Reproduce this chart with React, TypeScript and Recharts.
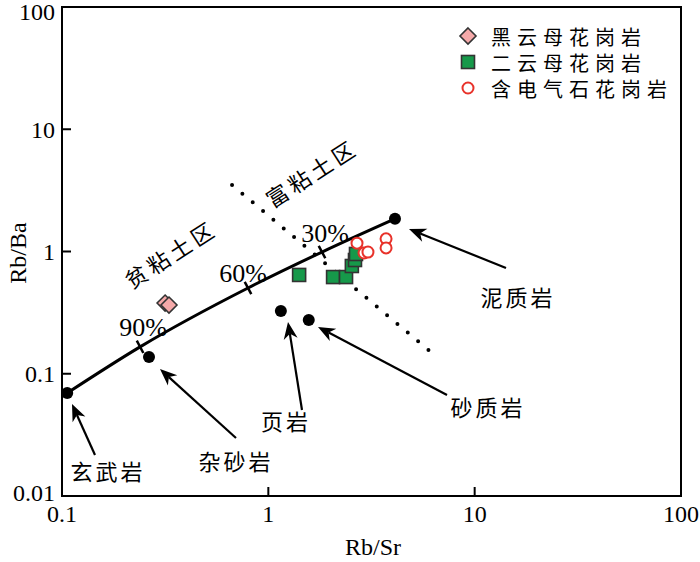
import React from 'react';
import { ComposedChart, Line, Scatter, XAxis, YAxis, ReferenceArea } from 'recharts';

// ---------- data ----------
const xTicks = [0.1, 1, 10, 100];
const yTicks = [0.01, 0.1, 1, 10, 100];

const seriesNames = ['黑云母花岗岩', '二云母花岗岩', '含电气石花岗岩'];

const biotiteGranite = [
  { x: 0.316, y: 0.379 },
  { x: 0.33, y: 0.365 },
];

const twoMicaGranite = [
  { x: 1.41, y: 0.643 },
  { x: 2.06, y: 0.618 },
  { x: 2.38, y: 0.618 },
  { x: 2.54, y: 0.761 },
  { x: 2.63, y: 0.852 },
  { x: 2.66, y: 0.954 },
];

const tourmalineGranite = [
  { x: 2.69, y: 1.17 },
  { x: 2.91, y: 0.972 },
  { x: 3.04, y: 0.99 },
  { x: 3.72, y: 1.27 },
  { x: 3.72, y: 1.07 },
];

const endMembers = [
  { name: '玄武岩', x: 0.106, y: 0.0696 },
  { name: '杂砂岩', x: 0.264, y: 0.137 },
  { name: '页岩', x: 1.15, y: 0.326 },
  { name: '砂质岩', x: 1.57, y: 0.275 },
  { name: '泥质岩', x: 4.11, y: 1.85 },
];

const mixingCurve = [
  { x: 0.106, y: 0.0696 },
  { x: 0.239, y: 0.166 },
  { x: 0.797, y: 0.503 },
  { x: 1.82, y: 0.99 },
  { x: 4.11, y: 1.85 },
];

const mixTicks = [
  { label: '90%', x: 0.239, y: 0.166 },
  { label: '60%', x: 0.797, y: 0.503 },
  { label: '30%', x: 1.82, y: 0.99 },
];

const clayBoundary = [
  { x: 0.667, y: 3.5 },
  { x: 6.3, y: 0.145 },
];

// ---------- layout (pixels) ----------
const W = 700;
const H = 562;
const SERIF = '"Liberation Serif", "Times New Roman", serif';
const CJK = '"Noto Sans CJK SC", "Noto Sans", sans-serif';

const rockLabels = [
  { text: '玄武岩', x: 108, y: 470 },
  { text: '杂砂岩', x: 236, y: 460 },
  { text: '页岩', x: 286, y: 420 },
  { text: '砂质岩', x: 488, y: 406 },
  { text: '泥质岩', x: 518, y: 296 },
];

const arrows = [
  { from: [95, 455], to: [72, 404] },
  { from: [236, 438], to: [160, 369] },
  { from: [302, 410], to: [288, 322] },
  { from: [447, 395], to: [318, 327] },
  { from: [506, 268], to: [409, 229] },
];

const pctLabels = [
  { x: 143, y: 327 },
  { x: 243, y: 273 },
  { x: 325, y: 233 },
];

const zoneLabels = [
  { text: '贫粘土区', x: 170, y: 253 },
  { text: '富粘土区', x: 311, y: 172 },
];

const legendRows = [36, 62, 88];

// ---------- shapes ----------
const Diamond = ({ cx, cy }: any) => (
  <polygon
    points={`${cx},${cy - 8} ${cx + 8},${cy} ${cx},${cy + 8} ${cx - 8},${cy}`}
    fill="#f5a9a9"
    stroke="#333"
    strokeWidth={1.6}
  />
);

const Square = ({ cx, cy }: any) => (
  <rect x={cx - 6.5} y={cy - 6.5} width={13} height={13} fill="#16994a" stroke="#333" strokeWidth={1.6} />
);

const Circle = ({ cx, cy }: any) => (
  <circle cx={cx} cy={cy} r={5.5} fill="#fff" stroke="#e8322a" strokeWidth={2} />
);

const Dot = ({ cx, cy }: any) => <circle cx={cx} cy={cy} r={6} fill="#000" />;

const TickMark = ({ cx, cy }: any) => {
  const a = (28 * Math.PI) / 180;
  const px = Math.sin(a) * 7;
  const py = Math.cos(a) * 7;
  return <line x1={cx - px} y1={cy - py} x2={cx + px} y2={cy + py} stroke="#000" strokeWidth={2.5} />;
};

const fmt = (v: number) => String(v);

const YTick = ({ x, y, payload }: any) => {
  const v = payload.value;
  const shift = v === 100 ? 5 : v === 0.01 ? -3 : 0;
  return (
    <g>
      <text x={x} y={y + shift} dy="0.35em" textAnchor="end" fontSize={24} fontFamily={SERIF} fill="#000">
        {fmt(v)}
      </text>
      {v > 0.01 && v < 100 && <line x1={x + 7} x2={x + 16} y1={y} y2={y} stroke="#000" strokeWidth={2} />}
    </g>
  );
};

const XTick = ({ x, y, payload }: any) => {
  const v = payload.value;
  return (
    <g>
      <text x={x} y={y} dy="0.72em" textAnchor="middle" fontSize={24} fontFamily={SERIF} fill="#000">
        {fmt(v)}
      </text>
      {v > 0.1 && v < 100 && <line x1={x} x2={x} y1={y - 9} y2={y - 18} stroke="#000" strokeWidth={2} />}
    </g>
  );
};

const Arrow = ({ from, to }: any) => {
  const [x1, y1] = from;
  const [x2, y2] = to;
  const dx = x2 - x1;
  const dy = y2 - y1;
  const L = Math.hypot(dx, dy);
  const ux = dx / L;
  const uy = dy / L;
  const hl = 17;
  const hw = 7;
  const bx = x2 - ux * hl;
  const by = y2 - uy * hl;
  const nx = x2 - ux * (hl - 5);
  const ny = y2 - uy * (hl - 5);
  const px = -uy;
  const py = ux;
  return (
    <g>
      <line x1={x1} y1={y1} x2={nx} y2={ny} stroke="#000" strokeWidth={2.2} />
      <polygon
        points={`${x2},${y2} ${bx + px * hw},${by + py * hw} ${nx},${ny} ${bx - px * hw},${by - py * hw}`}
        fill="#000"
      />
    </g>
  );
};

export default function App() {
  return (
    <div style={{ position: 'absolute', left: 0, top: 0, width: W, height: H, background: '#fff' }}>
      <ComposedChart width={W} height={H} margin={{ top: 7, right: 19, bottom: 26, left: 12 }}>
        <XAxis
          dataKey="x"
          type="number"
          scale="log"
          domain={[0.1, 100]}
          ticks={xTicks}
          allowDataOverflow
          interval={0}
          height={40}
          tickSize={0}
          tickMargin={9}
          tick={<XTick />}
          axisLine={{ stroke: '#000', strokeWidth: 2 }}
        />
        <YAxis
          dataKey="y"
          type="number"
          scale="log"
          domain={[0.01, 100]}
          ticks={yTicks}
          allowDataOverflow
          interval={0}
          width={50}
          tickSize={0}
          tickMargin={7}
          tick={<YTick />}
          axisLine={{ stroke: '#000', strokeWidth: 2 }}
        />
        <ReferenceArea x1={0.1} x2={100} y1={0.01} y2={100} fill="none" stroke="#000" strokeWidth={2} fillOpacity={0} />
        <Line
          data={clayBoundary}
          dataKey="y"
          type="linear"
          stroke="#000"
          strokeWidth={4}
          strokeDasharray="0 13.5"
          strokeLinecap="round"
          dot={false}
          activeDot={false}
          isAnimationActive={false}
        />
        <Line
          data={mixingCurve}
          dataKey="y"
          type="monotone"
          stroke="#000"
          strokeWidth={3}
          dot={false}
          activeDot={false}
          isAnimationActive={false}
        />
        <Scatter data={mixTicks} shape={<TickMark />} isAnimationActive={false} />
        <Scatter data={endMembers} shape={<Dot />} isAnimationActive={false} />
        <Scatter name={seriesNames[0]} data={biotiteGranite} shape={<Diamond />} isAnimationActive={false} />
        <Scatter name={seriesNames[1]} data={twoMicaGranite} shape={<Square />} isAnimationActive={false} />
        <Scatter name={seriesNames[2]} data={tourmalineGranite} shape={<Circle />} isAnimationActive={false} />
      </ComposedChart>
      <svg width={W} height={H} style={{ position: 'absolute', left: 0, top: 0, pointerEvents: 'none' }}>
        {/* axis titles */}
        <text x={373} y={547} textAnchor="middle" dominantBaseline="central" fontSize={24} fontFamily={SERIF}>
          Rb/Sr
        </text>
        <text
          x={18}
          y={253}
          textAnchor="middle"
          dominantBaseline="central"
          fontSize={24}
          fontFamily={SERIF}
          transform="rotate(-90 18 253)"
        >
          Rb/Ba
        </text>
        {/* percent labels */}
        {mixTicks.map((t, i) => (
          <text
            key={t.label}
            x={pctLabels[i].x}
            y={pctLabels[i].y}
            textAnchor="middle"
            dominantBaseline="central"
            fontSize={26}
            fontFamily={SERIF}
          >
            {t.label}
          </text>
        ))}
        {/* zone labels */}
        {zoneLabels.map((z) => (
          <text
            key={z.text}
            x={z.x}
            y={z.y}
            textAnchor="middle"
            dominantBaseline="central"
            fontSize={22}
            letterSpacing={4}
            fontFamily={CJK}
            transform={`rotate(-33 ${z.x} ${z.y})`}
          >
            {z.text}
          </text>
        ))}
        {/* rock labels */}
        {rockLabels.map((r) => (
          <text
            key={r.text}
            x={r.x}
            y={r.y}
            textAnchor="middle"
            dominantBaseline="central"
            fontSize={22}
            letterSpacing={3}
            fontFamily={CJK}
          >
            {r.text}
          </text>
        ))}
        {arrows.map((a, i) => (
          <Arrow key={i} from={a.from} to={a.to} />
        ))}
        {/* legend */}
        <Diamond cx={468} cy={legendRows[0]} />
        <Square cx={468} cy={legendRows[1]} />
        <Circle cx={468} cy={legendRows[2]} />
        {seriesNames.map((n, i) => (
          <text
            key={n}
            x={491}
            y={legendRows[i]}
            dominantBaseline="central"
            fontSize={20}
            letterSpacing={6}
            fontFamily={CJK}
          >
            {n}
          </text>
        ))}
      </svg>
    </div>
  );
}
